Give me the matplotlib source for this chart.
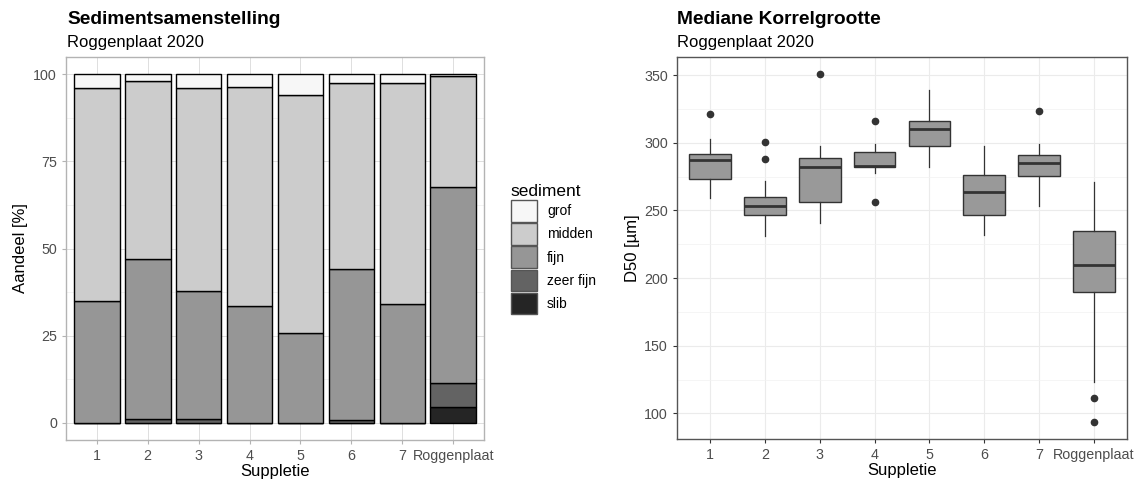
import numpy as np
import matplotlib
matplotlib.use('Agg')
import matplotlib.pyplot as plt
from matplotlib.patches import Patch

plt.rcParams['font.family'] = ['Liberation Sans', 'DejaVu Sans']

# categories
suppleties = ['1', '2', '3', '4', '5', '6', '7', 'Roggenplaat']

# sediment composition (%) per suppletie, bottom to top
slib = [0.0, 0.0, 0.0, 0.0, 0.0, 0.0, 0.0, 4.6]
zeer_fijn = [0.0, 1.1, 0.9, 0.0, 0.0, 0.8, 0.0, 6.9]
fijn = [34.8, 46.0, 36.9, 33.6, 25.8, 43.4, 34.2, 56.3]
midden = [61.4, 51.1, 58.3, 62.9, 68.3, 53.4, 63.4, 31.6]
grof = [3.8, 1.8, 3.9, 3.5, 5.9, 2.4, 2.4, 0.6]

# D50 box statistics (um)
whisk_low = [259, 231, 241, 277.6, 282, 232, 253.4, 123]
q1 = [273, 247, 256, 282.5, 297.5, 247, 275.6, 190]
med = [287, 253, 282, 283, 310, 264, 285, 210]
q3 = [292, 260, 289, 293, 316.5, 276, 291, 235]
whisk_high = [303, 272, 298, 299, 339, 298, 299, 271]
outliers = [[321], [301, 288], [351], [316, 256], [], [], [323.4], [111, 93.6]]

TICK_FS = 10.3
LAB_FS = 12

fig = plt.figure(figsize=(11.42, 4.83), dpi=100)

# ---- left panel: stacked bars ----
ax1 = fig.add_axes([66 / 1142, 43 / 483, 418 / 1142, 383 / 483])
x = np.arange(1, len(suppleties) + 1)
layers = [('slib', slib, '#252525'), ('zeer fijn', zeer_fijn, '#636363'),
          ('fijn', fijn, '#969696'), ('midden', midden, '#cccccc'),
          ('grof', grof, '#f7f7f7')]
bottom = np.zeros(len(x))
for name, vals, col in layers:
    vals = np.array(vals)
    ax1.bar(x, vals, bottom=bottom, width=0.9, color=col, edgecolor='black',
            linewidth=1.0, zorder=3)
    bottom += vals

ax1.set_xlim(0.4, 8.6)
ax1.set_ylim(-5, 105)
ax1.set_xticks(x)
ax1.set_xticklabels(suppleties)
ax1.set_yticks([0, 25, 50, 75, 100])
ax1.set_yticks([12.5, 37.5, 62.5, 87.5], minor=True)
ax1.grid(True, which='major', color='#dedede', linewidth=0.7, zorder=0)
ax1.grid(True, which='minor', axis='y', color='#efefef', linewidth=0.5, zorder=0)
for s in ax1.spines.values():
    s.set_color('#b3b3b3')
    s.set_linewidth(1.0)
ax1.tick_params(which='major', colors='#b3b3b3', labelcolor='#4d4d4d',
                labelsize=TICK_FS, length=3)
ax1.tick_params(which='minor', length=0)
ax1.set_xlabel('Suppletie', fontsize=LAB_FS, labelpad=1)
ax1.set_ylabel('Aandeel [%]', fontsize=LAB_FS, labelpad=4)

fig.text(67 / 1142, 1 - 24 / 483, 'Sedimentsamenstelling', fontsize=13.8,
         fontweight='bold')
fig.text(67 / 1142, 1 - 47 / 483, 'Roggenplaat 2020', fontsize=12)

handles = [Patch(facecolor=col, edgecolor='#555555', linewidth=1.0, label=name)
           for name, vals, col in layers[::-1]]
leg = fig.legend(handles=handles, loc='upper left',
                 bbox_to_anchor=(505 / 1142, 1 - 178 / 483), frameon=False,
                 title='sediment', title_fontsize=12.5, fontsize=10,
                 handlelength=1.87, handleheight=2.0, labelspacing=0.12,
                 handletextpad=0.75, borderaxespad=0, alignment='left')

# ---- right panel: boxplots ----
ax2 = fig.add_axes([677 / 1142, 44 / 483, 450 / 1142, 382 / 483])
stats = []
for i in range(len(suppleties)):
    stats.append(dict(whislo=whisk_low[i], q1=q1[i], med=med[i], q3=q3[i],
                      whishi=whisk_high[i], fliers=outliers[i]))
ax2.bxp(stats, positions=x, widths=0.76, patch_artist=True, showcaps=False,
        boxprops=dict(facecolor='#999999', edgecolor='#333333', linewidth=1.0),
        medianprops=dict(color='#333333', linewidth=2.0),
        whiskerprops=dict(color='#333333', linewidth=0.9),
        flierprops=dict(marker='o', markerfacecolor='#333333',
                        markeredgecolor='#333333', markersize=4.5),
        zorder=3)
ax2.set_xlim(0.4, 8.6)
ax2.set_ylim(81, 363.5)
ax2.set_xticks(x)
ax2.set_xticklabels(suppleties)
ax2.set_yticks([100, 150, 200, 250, 300, 350])
ax2.set_yticks([125, 175, 225, 275, 325], minor=True)
ax2.grid(True, which='major', color='#ebebeb', linewidth=0.8, zorder=0)
ax2.grid(True, which='minor', axis='y', color='#f2f2f2', linewidth=0.5, zorder=0)
for s in ax2.spines.values():
    s.set_color('#555555')
    s.set_linewidth(1.0)
ax2.tick_params(which='major', colors='#333333', labelcolor='#4d4d4d',
                labelsize=TICK_FS, length=3)
ax2.tick_params(which='minor', length=0)
ax2.set_xlabel('Suppletie', fontsize=LAB_FS, labelpad=1)
ax2.set_ylabel('D50 [\u00b5m]', fontsize=LAB_FS, labelpad=3)

fig.text(677 / 1142, 1 - 24 / 483, 'Mediane Korrelgrootte', fontsize=13.8,
         fontweight='bold')
fig.text(677 / 1142, 1 - 47 / 483, 'Roggenplaat 2020', fontsize=12)

fig.savefig('out.png', dpi=100)
